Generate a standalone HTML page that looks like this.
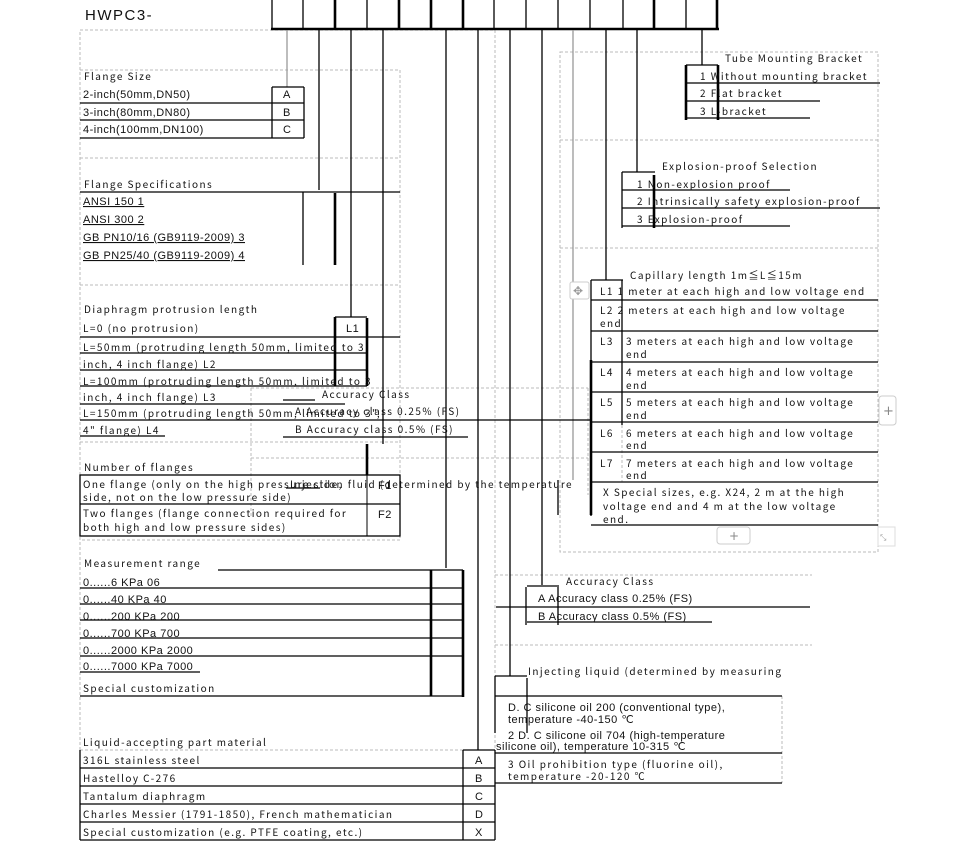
<!DOCTYPE html>
<html><head><meta charset="utf-8"><style>
html,body{margin:0;padding:0;background:#fff;width:973px;height:864px;overflow:hidden}
svg{display:block}
.m{font-family:"Noto Sans CJK SC","WenQuanYi Zen Hei",monospace;font-size:10px;letter-spacing:1.45px;fill:#111}
.s{font-family:"Liberation Sans",sans-serif;font-size:11px;letter-spacing:0.5px;fill:#111}
.b{stroke:#000;stroke-width:1.3}
.t{stroke:#000;stroke-width:2.6}
.g{stroke:#999;stroke-width:1.3}
.d{stroke:#bbb;stroke-width:1;stroke-dasharray:3 2;fill:none}
</style></head><body>
<svg width="973" height="864" xmlns="http://www.w3.org/2000/svg">
<g class="d">
<rect x="80" y="30" width="415" height="810"/>
<rect x="80" y="70" width="320" height="470"/>
<line x1="80" y1="158" x2="400" y2="158"/>
<line x1="80" y1="285" x2="400" y2="285"/>
<line x1="80" y1="442" x2="400" y2="442"/>
<line x1="251" y1="388" x2="588" y2="388"/>
<line x1="251" y1="388" x2="251" y2="518"/>
<line x1="251" y1="458" x2="588" y2="458"/>
<line x1="588" y1="388" x2="588" y2="495"/>
<line x1="80" y1="750" x2="495" y2="750"/>
<rect x="560" y="52" width="318" height="500"/>
<line x1="560" y1="140" x2="878" y2="140"/>
<line x1="560" y1="248" x2="878" y2="248"/>
<line x1="495" y1="575" x2="812" y2="575"/>
<line x1="495" y1="645" x2="812" y2="645"/>
<line x1="495" y1="575" x2="495" y2="840"/>
<line x1="782" y1="696" x2="782" y2="783"/>
<line x1="622" y1="425" x2="622" y2="482"/>
</g>
<text x="85" y="20" class="s" style="font-size:15px;letter-spacing:1.5px">HWPC3-</text>
<g class="b">
<line x1="272" y1="0" x2="272" y2="29"/><line x1="303" y1="0" x2="303" y2="29"/>
<line x1="367" y1="0" x2="367" y2="29"/><line x1="494" y1="0" x2="494" y2="29"/>
<line x1="526" y1="0" x2="526" y2="29"/><line x1="558" y1="0" x2="558" y2="29"/>
<line x1="590" y1="0" x2="590" y2="29"/><line x1="623" y1="0" x2="623" y2="29"/>
<line x1="686" y1="0" x2="686" y2="29"/>
</g>
<g class="t">
<line x1="335" y1="0" x2="335" y2="29"/><line x1="399" y1="0" x2="399" y2="29"/>
<line x1="431" y1="0" x2="431" y2="29"/><line x1="463" y1="0" x2="463" y2="29"/>
<line x1="654" y1="0" x2="654" y2="29"/><line x1="717" y1="0" x2="717" y2="29"/>
<line x1="271" y1="29" x2="719" y2="29"/>
</g>
<g class="g"><line x1="287" y1="30" x2="287" y2="87"/><line x1="573" y1="30" x2="573" y2="480"/></g>
<g class="b">
<line x1="319" y1="30" x2="319" y2="190"/>
<line x1="351" y1="30" x2="351" y2="317"/>
<line x1="383" y1="30" x2="383" y2="444"/>
<line x1="446" y1="30" x2="446" y2="568"/>
<line x1="478" y1="30" x2="478" y2="750"/>
<line x1="510" y1="30" x2="510" y2="676"/>
<line x1="542" y1="30" x2="542" y2="585"/>
<line x1="606" y1="30" x2="606" y2="280"/>
<line x1="637" y1="30" x2="637" y2="172"/>
<line x1="702" y1="30" x2="702" y2="65"/>
<line x1="558" y1="480" x2="558" y2="515"/>
</g>
<text x="84" y="80" class="m">Flange Size</text>
<text x="83" y="98" class="s">2-inch(50mm,DN50)</text>
<text x="83" y="116" class="s">3-inch(80mm,DN80)</text>
<text x="83" y="133" class="s">4-inch(100mm,DN100)</text>
<text x="283" y="98" class="s">A</text><text x="283" y="116" class="s">B</text><text x="283" y="133" class="s">C</text>
<g class="b">
<line x1="272" y1="87" x2="304" y2="87"/>
<line x1="80" y1="103" x2="304" y2="103"/><line x1="80" y1="120" x2="304" y2="120"/><line x1="80" y1="138" x2="304" y2="138"/>
<line x1="272" y1="87" x2="272" y2="138"/><line x1="304" y1="87" x2="304" y2="138"/>
</g>
<text x="84" y="188" class="m">Flange Specifications</text>
<line x1="80" y1="192" x2="400" y2="192" class="b"/>
<g class="s" style="text-decoration:underline">
<text x="83" y="205">ANSI 150 1 </text><text x="83" y="223">ANSI 300  2 </text>
<text x="83" y="241">GB PN10/16 (GB9119-2009) 3 </text><text x="83" y="259">GB PN25/40 (GB9119-2009) 4 </text>
</g>
<line x1="303" y1="192" x2="303" y2="265" class="b"/><line x1="335" y1="193" x2="335" y2="265" class="t"/>
<text x="84" y="313" class="m">Diaphragm protrusion length</text>
<g class="b">
<line x1="335" y1="317" x2="367" y2="317"/>
<line x1="80" y1="337" x2="400" y2="337"/>
<line x1="80" y1="353" x2="367" y2="353"/><line x1="80" y1="370" x2="367" y2="370"/>
<line x1="80" y1="386" x2="367" y2="386"/><line x1="80" y1="404" x2="345" y2="404"/>
<line x1="80" y1="420" x2="590" y2="420"/>
<line x1="283" y1="400" x2="315" y2="400"/><line x1="283" y1="437" x2="468" y2="437"/>
<line x1="286" y1="488" x2="320" y2="488"/>
<line x1="80" y1="436" x2="165" y2="436"/>
</g>
<line x1="335" y1="317" x2="335" y2="386" class="t"/><line x1="367" y1="318" x2="367" y2="386" class="t"/>
<line x1="367" y1="444" x2="367" y2="475" class="t"/>
<text x="346" y="332" class="s">L1</text>
<text x="83" y="332" class="m">L=0 (no protrusion)</text>
<text x="83" y="351" class="m">L=50mm (protruding length 50mm, limited to 3</text>
<text x="83" y="368" class="m">inch, 4 inch flange) L2</text>
<text x="83" y="385" class="m">L=100mm (protruding length 50mm, limited to 3</text>
<text x="83" y="401" class="m">inch, 4 inch flange) L3</text>
<text x="83" y="417" class="m">L=150mm (protruding length 50mm, limited to 3",</text>
<text x="83" y="434" class="m">4" flange) L4</text>
<text x="322" y="398" class="m">Accuracy Class</text>
<text x="295" y="415" class="m">A Accuracy class 0.25% (FS)</text>
<text x="295" y="433" class="m">B Accuracy class 0.5% (FS)</text>
<text x="84" y="471" class="m">Number of flanges</text>
<g class="b"><rect x="80" y="475" width="320" height="61" fill="none"/><line x1="80" y1="504" x2="400" y2="504"/><line x1="367" y1="475" x2="367" y2="536" stroke-width="1"/></g>
<text x="83" y="488" class="m">One flange (only on the high pressure side,</text>
<text x="83" y="501" class="m">side, not on the low pressure side)</text>
<text x="83" y="517" class="m">Two flanges (flange connection required for</text>
<text x="83" y="531" class="m">both high and low pressure sides)</text>
<text x="378" y="489" class="s">F1</text><text x="378" y="518" class="s">F2</text>
<text x="290" y="488" class="m">Injection fluid (determined by the temperature</text>
<text x="84" y="567" class="m">Measurement range</text>
<g class="b">
<line x1="218" y1="570" x2="463" y2="570"/>
<line x1="80" y1="588" x2="463" y2="588"/><line x1="80" y1="604" x2="463" y2="604"/>
<line x1="80" y1="620" x2="463" y2="620"/><line x1="80" y1="638" x2="463" y2="638"/>
<line x1="80" y1="656" x2="463" y2="656"/><line x1="80" y1="672" x2="200" y2="672"/>
<line x1="80" y1="696" x2="463" y2="696"/>
</g>
<line x1="431" y1="570" x2="431" y2="696" class="t"/><line x1="463" y1="570" x2="463" y2="697" class="t"/>
<g class="s"><text x="83" y="586">0......6 KPa 06</text><text x="83" y="603">0......40 KPa 40</text>
<text x="83" y="620">0......200 KPa 200</text><text x="83" y="637">0......700 KPa 700</text>
<text x="83" y="654">0......2000 KPa 2000</text><text x="83" y="670">0......7000 KPa 7000</text></g>
<text x="83" y="692" class="m">Special customization</text>
<text x="83" y="746" class="m">Liquid-accepting part material</text>
<g class="b" fill="none">
<line x1="463" y1="750" x2="495" y2="750"/>
<line x1="80" y1="768" x2="495" y2="768"/><line x1="80" y1="786" x2="495" y2="786"/>
<line x1="80" y1="804" x2="495" y2="804"/><line x1="80" y1="822" x2="495" y2="822"/>
<line x1="80" y1="840" x2="495" y2="840"/>
<line x1="80" y1="750" x2="80" y2="840"/><line x1="463" y1="750" x2="463" y2="840"/><line x1="495" y1="750" x2="495" y2="840"/>
</g>
<text x="83" y="764" class="m">316L stainless steel</text>
<text x="83" y="782" class="m">Hastelloy C-276</text>
<text x="83" y="800" class="m">Tantalum diaphragm</text>
<text x="83" y="818" class="m">Charles Messier (1791-1850), French mathematician</text>
<text x="83" y="836" class="m">Special customization (e.g. PTFE coating, etc.)</text>
<g class="s"><text x="475" y="764">A</text><text x="475" y="782">B</text><text x="475" y="800">C</text><text x="475" y="818">D</text><text x="475" y="836">X</text></g>
<text x="725" y="62" class="m">Tube Mounting Bracket</text>
<g class="b"><line x1="686" y1="65" x2="718" y2="65"/><line x1="686" y1="83" x2="880" y2="83"/><line x1="686" y1="101" x2="820" y2="101"/><line x1="686" y1="118" x2="810" y2="118"/></g>
<line x1="686" y1="65" x2="686" y2="120" class="t"/><line x1="718" y1="65" x2="718" y2="120" class="t"/>
<text x="700" y="80" class="m">1 Without mounting bracket</text>
<text x="700" y="97" class="m">2 Flat bracket</text>
<text x="700" y="115" class="m">3 L-bracket</text>
<text x="662" y="170" class="m">Explosion-proof Selection</text>
<g class="b"><line x1="622" y1="172" x2="655" y2="172"/><line x1="622" y1="190" x2="790" y2="190"/><line x1="622" y1="208" x2="880" y2="208"/><line x1="622" y1="226" x2="790" y2="226"/><line x1="622" y1="172" x2="622" y2="228"/></g>
<line x1="654" y1="175" x2="654" y2="228" class="t"/>
<text x="637" y="188" class="m">1 Non-explosion proof</text>
<text x="637" y="205" class="m">2 Intrinsically safety explosion-proof</text>
<text x="637" y="223" class="m">3 Explosion-proof</text>
<text x="630" y="279" class="m">Capillary length 1m≦L≦15m</text>
<g class="b">
<line x1="591" y1="280" x2="623" y2="280"/>
<line x1="591" y1="300" x2="878" y2="300"/><line x1="591" y1="331" x2="878" y2="331"/>
<line x1="591" y1="362" x2="878" y2="362"/><line x1="591" y1="392" x2="878" y2="392"/>
<line x1="591" y1="422" x2="878" y2="422"/><line x1="591" y1="452" x2="878" y2="452"/>
<line x1="591" y1="482" x2="878" y2="482"/><line x1="591" y1="525" x2="878" y2="525"/>
<line x1="591" y1="280" x2="591" y2="425"/><line x1="591" y1="482" x2="591" y2="516"/>
<line x1="622" y1="280" x2="622" y2="425"/>
</g>
<line x1="591" y1="360" x2="591" y2="515" class="t"/>
<g class="m">
<text x="600" y="295">L1 1 meter at each high and low voltage end</text>
<text x="600" y="314">L2 2 meters at each high and low voltage</text><text x="600" y="327">end</text>
<text x="600" y="345">L3</text><text x="626" y="345">3 meters at each high and low voltage</text><text x="626" y="358">end</text>
<text x="600" y="376">L4</text><text x="626" y="376">4 meters at each high and low voltage</text><text x="626" y="389">end</text>
<text x="600" y="406">L5</text><text x="626" y="406">5 meters at each high and low voltage</text><text x="626" y="419">end</text>
<text x="600" y="437">L6</text><text x="626" y="437">6 meters at each high and low voltage</text><text x="626" y="449">end</text>
<text x="600" y="467">L7</text><text x="626" y="467">7 meters at each high and low voltage</text><text x="626" y="479">end</text>
<text x="603" y="496">X Special sizes, e.g. X24, 2 m at the high</text>
<text x="603" y="510">voltage end and 4 m at the low voltage</text>
<text x="603" y="523">end.</text>
</g>
<rect x="570" y="282" width="19" height="17" rx="2" fill="#fff" stroke="#ccc"/>
<text x="573" y="295" style="font-size:12px;fill:#999;font-family:'DejaVu Sans'">✥</text>
<rect x="879" y="396" width="17" height="29" rx="3" fill="#fff" stroke="#ccc"/>
<text x="883" y="415" style="font-size:13px;fill:#888;font-family:'DejaVu Sans'">+</text>
<rect x="717" y="527" width="33" height="17" rx="3" fill="#fff" stroke="#ccc"/>
<text x="729" y="540" style="font-size:12px;fill:#888;font-family:'DejaVu Sans'">+</text>
<rect x="878" y="527" width="17" height="19" fill="#fff" stroke="#ddd"/>
<text x="880" y="540" style="font-size:8px;fill:#999;font-family:'DejaVu Sans'">⤡</text>
<text x="566" y="585" class="m">Accuracy Class</text>
<g class="b"><line x1="527" y1="586" x2="559" y2="586"/><line x1="496" y1="607" x2="810" y2="607"/><line x1="527" y1="622" x2="712" y2="622"/>
<line x1="526" y1="587" x2="526" y2="625"/><line x1="558" y1="587" x2="558" y2="625"/></g>
<text x="538" y="602" class="s">A Accuracy class 0.25% (FS)</text>
<text x="538" y="620" class="s">B Accuracy class 0.5% (FS)</text>
<text x="528" y="675" class="m">Injecting liquid (determined by measuring</text>
<g class="b"><line x1="495" y1="676" x2="527" y2="676"/><line x1="495" y1="676" x2="495" y2="733"/><line x1="527" y1="678" x2="527" y2="733"/>
<line x1="495" y1="696" x2="782" y2="696"/><line x1="495" y1="753" x2="782" y2="753"/><line x1="495" y1="783" x2="782" y2="783"/></g>
<g class="s"><text x="508" y="711">D. C silicone oil 200 (conventional type),</text>
<text x="508" y="723">temperature -40-150 ℃</text>
<text x="508" y="739">2 D. C silicone oil 704 (high-temperature</text>
<text x="496" y="750">silicone oil), temperature 10-315 ℃</text></g>
<text x="508" y="768" class="m">3 Oil prohibition type (fluorine oil),</text>
<text x="508" y="780" class="m">temperature -20-120 ℃</text>
</svg>
</body></html>
